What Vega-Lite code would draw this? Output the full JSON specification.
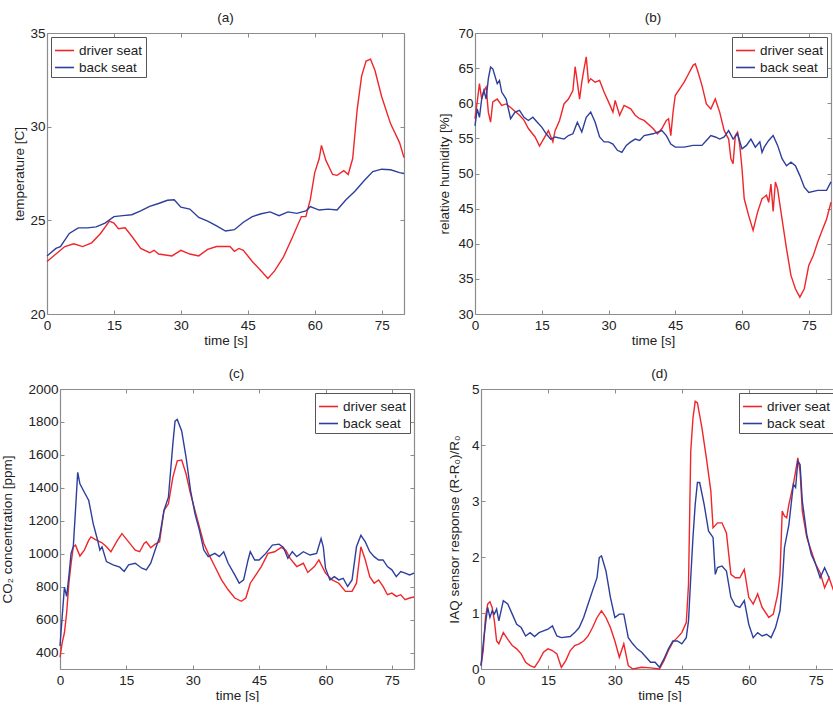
{
"$schema": "https://vega.github.io/schema/vega-lite/v6.json",
"background": "white",
"padding": {"left": 0, "top": 10, "right": 0, "bottom": 0},
"config": {
  "font": "Liberation Sans",
  "view": {"stroke": null},
  "title": {"fontSize": 13.5, "fontWeight": "normal", "color": "#222", "offset": 2},
  "axis": {"labelFontSize": 13.5, "titleFontSize": 13.5, "titleFontWeight": "normal", "labelColor": "#222", "titleColor": "#222", "domainColor": "#8c8c8c", "domainWidth": 1.2, "tickColor": "#8c8c8c", "tickSize": -4, "grid": false, "labelFlush": false, "labelOverlap": false},
  "axisX": {"labelPadding": 8, "titlePadding": 2},
  "axisY": {"labelPadding": 6},
  "legend": {"labelFontSize": 13.5, "labelColor": "#222", "symbolType": "stroke", "symbolSize": 361, "symbolStrokeWidth": 1.6, "strokeColor": "#555", "fillColor": "white", "padding": 3, "offset": 4, "labelOffset": 4, "rowPadding": -2}
},
"datasets": {
"a": [
{"t":0,"v":22.8,"s":"driver seat"},{"t":2,"v":23.2,"s":"driver seat"},{"t":4,"v":23.6,"s":"driver seat"},{"t":6,"v":23.75,"s":"driver seat"},{"t":8,"v":23.6,"s":"driver seat"},{"t":10,"v":23.8,"s":"driver seat"},{"t":12,"v":24.3,"s":"driver seat"},{"t":14,"v":24.96,"s":"driver seat"},{"t":15,"v":24.85,"s":"driver seat"},{"t":16,"v":24.55,"s":"driver seat"},{"t":17.5,"v":24.6,"s":"driver seat"},{"t":19,"v":24.15,"s":"driver seat"},{"t":21,"v":23.5,"s":"driver seat"},{"t":23,"v":23.27,"s":"driver seat"},{"t":24,"v":23.4,"s":"driver seat"},{"t":25,"v":23.2,"s":"driver seat"},{"t":28,"v":23.1,"s":"driver seat"},{"t":30,"v":23.4,"s":"driver seat"},{"t":32,"v":23.2,"s":"driver seat"},{"t":34,"v":23.1,"s":"driver seat"},{"t":36,"v":23.45,"s":"driver seat"},{"t":38,"v":23.6,"s":"driver seat"},{"t":41,"v":23.6,"s":"driver seat"},{"t":42,"v":23.35,"s":"driver seat"},{"t":43,"v":23.5,"s":"driver seat"},{"t":44,"v":23.4,"s":"driver seat"},{"t":46,"v":22.8,"s":"driver seat"},{"t":48,"v":22.3,"s":"driver seat"},{"t":49.5,"v":21.9,"s":"driver seat"},{"t":51,"v":22.3,"s":"driver seat"},{"t":53,"v":23.05,"s":"driver seat"},{"t":55,"v":24.1,"s":"driver seat"},{"t":57,"v":25.2,"s":"driver seat"},{"t":58,"v":25.2,"s":"driver seat"},{"t":59,"v":26.1,"s":"driver seat"},{"t":60,"v":27.55,"s":"driver seat"},{"t":61,"v":28.3,"s":"driver seat"},{"t":61.5,"v":29.0,"s":"driver seat"},{"t":62.5,"v":28.2,"s":"driver seat"},{"t":64,"v":27.45,"s":"driver seat"},{"t":65,"v":27.4,"s":"driver seat"},{"t":66.5,"v":27.65,"s":"driver seat"},{"t":67.5,"v":27.45,"s":"driver seat"},{"t":68.5,"v":28.3,"s":"driver seat"},{"t":69.5,"v":30.9,"s":"driver seat"},{"t":70.5,"v":32.7,"s":"driver seat"},{"t":71.5,"v":33.5,"s":"driver seat"},{"t":72.5,"v":33.6,"s":"driver seat"},{"t":73.5,"v":33.0,"s":"driver seat"},{"t":75,"v":31.6,"s":"driver seat"},{"t":77,"v":30.15,"s":"driver seat"},{"t":79,"v":29.15,"s":"driver seat"},{"t":80,"v":28.35,"s":"driver seat"},
{"t":0,"v":23.1,"s":"back seat"},{"t":2,"v":23.5,"s":"back seat"},{"t":3,"v":23.6,"s":"back seat"},{"t":5,"v":24.3,"s":"back seat"},{"t":7,"v":24.6,"s":"back seat"},{"t":9,"v":24.6,"s":"back seat"},{"t":11,"v":24.65,"s":"back seat"},{"t":13,"v":24.85,"s":"back seat"},{"t":15,"v":25.2,"s":"back seat"},{"t":17,"v":25.25,"s":"back seat"},{"t":19,"v":25.3,"s":"back seat"},{"t":21,"v":25.5,"s":"back seat"},{"t":23,"v":25.75,"s":"back seat"},{"t":25,"v":25.9,"s":"back seat"},{"t":27,"v":26.07,"s":"back seat"},{"t":28.5,"v":26.1,"s":"back seat"},{"t":30,"v":25.7,"s":"back seat"},{"t":32,"v":25.6,"s":"back seat"},{"t":34,"v":25.15,"s":"back seat"},{"t":36,"v":24.96,"s":"back seat"},{"t":38,"v":24.7,"s":"back seat"},{"t":40,"v":24.43,"s":"back seat"},{"t":42,"v":24.5,"s":"back seat"},{"t":44,"v":24.9,"s":"back seat"},{"t":46,"v":25.2,"s":"back seat"},{"t":48,"v":25.35,"s":"back seat"},{"t":50,"v":25.45,"s":"back seat"},{"t":52,"v":25.25,"s":"back seat"},{"t":54,"v":25.45,"s":"back seat"},{"t":56,"v":25.37,"s":"back seat"},{"t":58,"v":25.5,"s":"back seat"},{"t":59,"v":25.73,"s":"back seat"},{"t":61,"v":25.55,"s":"back seat"},{"t":63,"v":25.6,"s":"back seat"},{"t":65,"v":25.55,"s":"back seat"},{"t":67,"v":26.1,"s":"back seat"},{"t":69,"v":26.55,"s":"back seat"},{"t":71,"v":27.1,"s":"back seat"},{"t":73,"v":27.6,"s":"back seat"},{"t":75,"v":27.73,"s":"back seat"},{"t":77,"v":27.7,"s":"back seat"},{"t":79,"v":27.55,"s":"back seat"},{"t":80,"v":27.5,"s":"back seat"}
],
"b": [
{"t":0,"v":57.8,"s":"driver seat"},{"t":0.5,"v":60.2,"s":"driver seat"},{"t":1,"v":62.8,"s":"driver seat"},{"t":1.5,"v":60.6,"s":"driver seat"},{"t":2,"v":61.8,"s":"driver seat"},{"t":2.5,"v":62.3,"s":"driver seat"},{"t":3,"v":58.7,"s":"driver seat"},{"t":3.5,"v":57.3,"s":"driver seat"},{"t":4,"v":60.2,"s":"driver seat"},{"t":5,"v":60.6,"s":"driver seat"},{"t":6,"v":59.7,"s":"driver seat"},{"t":7,"v":59.9,"s":"driver seat"},{"t":8,"v":59.4,"s":"driver seat"},{"t":10,"v":58.3,"s":"driver seat"},{"t":11,"v":57.6,"s":"driver seat"},{"t":12,"v":56.4,"s":"driver seat"},{"t":13.5,"v":55.2,"s":"driver seat"},{"t":14.5,"v":53.9,"s":"driver seat"},{"t":15.5,"v":55.0,"s":"driver seat"},{"t":16.5,"v":56.1,"s":"driver seat"},{"t":17.5,"v":54.5,"s":"driver seat"},{"t":18,"v":56.1,"s":"driver seat"},{"t":19,"v":57.55,"s":"driver seat"},{"t":20,"v":59.9,"s":"driver seat"},{"t":21,"v":60.6,"s":"driver seat"},{"t":22,"v":61.8,"s":"driver seat"},{"t":22.5,"v":65.2,"s":"driver seat"},{"t":23,"v":63.0,"s":"driver seat"},{"t":23.5,"v":60.6,"s":"driver seat"},{"t":24,"v":63.0,"s":"driver seat"},{"t":24.5,"v":64.9,"s":"driver seat"},{"t":25,"v":66.6,"s":"driver seat"},{"t":25.5,"v":63.0,"s":"driver seat"},{"t":26,"v":63.5,"s":"driver seat"},{"t":27,"v":63.0,"s":"driver seat"},{"t":28,"v":63.25,"s":"driver seat"},{"t":29,"v":61.6,"s":"driver seat"},{"t":30,"v":60.2,"s":"driver seat"},{"t":31,"v":58.75,"s":"driver seat"},{"t":31.5,"v":60.4,"s":"driver seat"},{"t":32.5,"v":58.3,"s":"driver seat"},{"t":33.5,"v":59.7,"s":"driver seat"},{"t":35,"v":59.2,"s":"driver seat"},{"t":36,"v":58.3,"s":"driver seat"},{"t":37,"v":57.8,"s":"driver seat"},{"t":38,"v":57.55,"s":"driver seat"},{"t":40,"v":56.4,"s":"driver seat"},{"t":41,"v":55.65,"s":"driver seat"},{"t":42,"v":56.4,"s":"driver seat"},{"t":43,"v":57.55,"s":"driver seat"},{"t":43.5,"v":57.8,"s":"driver seat"},{"t":44,"v":55.4,"s":"driver seat"},{"t":44.5,"v":58.7,"s":"driver seat"},{"t":45,"v":61.1,"s":"driver seat"},{"t":46,"v":62.05,"s":"driver seat"},{"t":47,"v":63.0,"s":"driver seat"},{"t":48,"v":64.2,"s":"driver seat"},{"t":49,"v":65.4,"s":"driver seat"},{"t":49.5,"v":65.6,"s":"driver seat"},{"t":50,"v":64.7,"s":"driver seat"},{"t":51,"v":62.55,"s":"driver seat"},{"t":52,"v":59.9,"s":"driver seat"},{"t":53,"v":59.2,"s":"driver seat"},{"t":54,"v":60.6,"s":"driver seat"},{"t":55,"v":58.7,"s":"driver seat"},{"t":56,"v":56.1,"s":"driver seat"},{"t":57,"v":54.9,"s":"driver seat"},{"t":57.5,"v":52.1,"s":"driver seat"},{"t":58,"v":51.4,"s":"driver seat"},{"t":58.5,"v":55.4,"s":"driver seat"},{"t":59,"v":55.9,"s":"driver seat"},{"t":59.5,"v":54.0,"s":"driver seat"},{"t":60,"v":50.7,"s":"driver seat"},{"t":60.5,"v":46.4,"s":"driver seat"},{"t":61.5,"v":44.0,"s":"driver seat"},{"t":62.5,"v":41.9,"s":"driver seat"},{"t":63.5,"v":44.5,"s":"driver seat"},{"t":64.5,"v":46.4,"s":"driver seat"},{"t":65.5,"v":46.9,"s":"driver seat"},{"t":66,"v":45.9,"s":"driver seat"},{"t":66.5,"v":48.5,"s":"driver seat"},{"t":67,"v":44.6,"s":"driver seat"},{"t":67.5,"v":48.8,"s":"driver seat"},{"t":68,"v":47.8,"s":"driver seat"},{"t":69,"v":43.5,"s":"driver seat"},{"t":70,"v":39.3,"s":"driver seat"},{"t":71,"v":35.5,"s":"driver seat"},{"t":72,"v":33.6,"s":"driver seat"},{"t":73,"v":32.4,"s":"driver seat"},{"t":74,"v":33.6,"s":"driver seat"},{"t":75,"v":36.9,"s":"driver seat"},{"t":76,"v":38.3,"s":"driver seat"},{"t":77,"v":40.2,"s":"driver seat"},{"t":78,"v":41.9,"s":"driver seat"},{"t":79,"v":43.5,"s":"driver seat"},{"t":80,"v":45.9,"s":"driver seat"},
{"t":0,"v":56.8,"s":"back seat"},{"t":0.5,"v":59.2,"s":"back seat"},{"t":1,"v":58.0,"s":"back seat"},{"t":1.5,"v":60.6,"s":"back seat"},{"t":2,"v":61.8,"s":"back seat"},{"t":2.5,"v":60.6,"s":"back seat"},{"t":3,"v":63.5,"s":"back seat"},{"t":3.5,"v":65.15,"s":"back seat"},{"t":4,"v":64.9,"s":"back seat"},{"t":5,"v":62.8,"s":"back seat"},{"t":5.5,"v":63.25,"s":"back seat"},{"t":6,"v":61.6,"s":"back seat"},{"t":7,"v":60.6,"s":"back seat"},{"t":8,"v":57.8,"s":"back seat"},{"t":9,"v":58.75,"s":"back seat"},{"t":10,"v":59.0,"s":"back seat"},{"t":11,"v":58.0,"s":"back seat"},{"t":12,"v":57.55,"s":"back seat"},{"t":13,"v":58.0,"s":"back seat"},{"t":14,"v":57.3,"s":"back seat"},{"t":15,"v":56.6,"s":"back seat"},{"t":16,"v":55.65,"s":"back seat"},{"t":17,"v":54.9,"s":"back seat"},{"t":18,"v":55.2,"s":"back seat"},{"t":20,"v":54.9,"s":"back seat"},{"t":21,"v":55.4,"s":"back seat"},{"t":22,"v":55.65,"s":"back seat"},{"t":23,"v":57.3,"s":"back seat"},{"t":24,"v":55.9,"s":"back seat"},{"t":25,"v":58.0,"s":"back seat"},{"t":26,"v":58.75,"s":"back seat"},{"t":27,"v":57.3,"s":"back seat"},{"t":28,"v":55.2,"s":"back seat"},{"t":29,"v":54.5,"s":"back seat"},{"t":30,"v":54.5,"s":"back seat"},{"t":31,"v":54.2,"s":"back seat"},{"t":32,"v":53.3,"s":"back seat"},{"t":33,"v":53.0,"s":"back seat"},{"t":34,"v":54.0,"s":"back seat"},{"t":35,"v":54.5,"s":"back seat"},{"t":36,"v":54.9,"s":"back seat"},{"t":37,"v":54.7,"s":"back seat"},{"t":38,"v":55.4,"s":"back seat"},{"t":40,"v":55.65,"s":"back seat"},{"t":42,"v":56.1,"s":"back seat"},{"t":43,"v":55.4,"s":"back seat"},{"t":44,"v":54.2,"s":"back seat"},{"t":45,"v":53.75,"s":"back seat"},{"t":47,"v":53.75,"s":"back seat"},{"t":49,"v":54.0,"s":"back seat"},{"t":51,"v":54.0,"s":"back seat"},{"t":52,"v":54.7,"s":"back seat"},{"t":53,"v":55.4,"s":"back seat"},{"t":54,"v":55.2,"s":"back seat"},{"t":55,"v":54.9,"s":"back seat"},{"t":56,"v":55.2,"s":"back seat"},{"t":57,"v":56.1,"s":"back seat"},{"t":58,"v":54.9,"s":"back seat"},{"t":59,"v":55.65,"s":"back seat"},{"t":60,"v":53.5,"s":"back seat"},{"t":61,"v":54.0,"s":"back seat"},{"t":62,"v":54.9,"s":"back seat"},{"t":63,"v":53.75,"s":"back seat"},{"t":64,"v":54.5,"s":"back seat"},{"t":64.5,"v":53.0,"s":"back seat"},{"t":65,"v":53.75,"s":"back seat"},{"t":66,"v":54.7,"s":"back seat"},{"t":67,"v":55.4,"s":"back seat"},{"t":68,"v":54.0,"s":"back seat"},{"t":69,"v":52.1,"s":"back seat"},{"t":70,"v":51.1,"s":"back seat"},{"t":71,"v":51.6,"s":"back seat"},{"t":72,"v":51.1,"s":"back seat"},{"t":73,"v":49.7,"s":"back seat"},{"t":74,"v":48.05,"s":"back seat"},{"t":75,"v":47.3,"s":"back seat"},{"t":77,"v":47.6,"s":"back seat"},{"t":79,"v":47.6,"s":"back seat"},{"t":80,"v":48.8,"s":"back seat"}
],
"c": [
{"t":0,"v":370,"s":"driver seat"},{"t":0.5,"v":460,"s":"driver seat"},{"t":1,"v":520,"s":"driver seat"},{"t":1.5,"v":640,"s":"driver seat"},{"t":2,"v":820,"s":"driver seat"},{"t":2.5,"v":940,"s":"driver seat"},{"t":3,"v":1042,"s":"driver seat"},{"t":3.5,"v":1052,"s":"driver seat"},{"t":4.5,"v":986,"s":"driver seat"},{"t":5.5,"v":1022,"s":"driver seat"},{"t":6.5,"v":1082,"s":"driver seat"},{"t":7,"v":1102,"s":"driver seat"},{"t":8,"v":1086,"s":"driver seat"},{"t":9.5,"v":1066,"s":"driver seat"},{"t":10.5,"v":1042,"s":"driver seat"},{"t":11.5,"v":1012,"s":"driver seat"},{"t":13,"v":1082,"s":"driver seat"},{"t":14,"v":1122,"s":"driver seat"},{"t":15.5,"v":1072,"s":"driver seat"},{"t":17,"v":1022,"s":"driver seat"},{"t":18,"v":1012,"s":"driver seat"},{"t":19,"v":1062,"s":"driver seat"},{"t":19.5,"v":1072,"s":"driver seat"},{"t":20.5,"v":1036,"s":"driver seat"},{"t":21.5,"v":1058,"s":"driver seat"},{"t":22.5,"v":1072,"s":"driver seat"},{"t":23.5,"v":1263,"s":"driver seat"},{"t":24.5,"v":1303,"s":"driver seat"},{"t":25.5,"v":1464,"s":"driver seat"},{"t":26.5,"v":1564,"s":"driver seat"},{"t":27.5,"v":1568,"s":"driver seat"},{"t":28.5,"v":1484,"s":"driver seat"},{"t":29.5,"v":1363,"s":"driver seat"},{"t":30.5,"v":1263,"s":"driver seat"},{"t":31.5,"v":1163,"s":"driver seat"},{"t":32.5,"v":1062,"s":"driver seat"},{"t":33.5,"v":1002,"s":"driver seat"},{"t":35,"v":922,"s":"driver seat"},{"t":36.5,"v":841,"s":"driver seat"},{"t":38,"v":781,"s":"driver seat"},{"t":39.5,"v":731,"s":"driver seat"},{"t":41,"v":711,"s":"driver seat"},{"t":42,"v":731,"s":"driver seat"},{"t":43,"v":821,"s":"driver seat"},{"t":44,"v":861,"s":"driver seat"},{"t":45.5,"v":922,"s":"driver seat"},{"t":47,"v":1002,"s":"driver seat"},{"t":48.5,"v":1012,"s":"driver seat"},{"t":50,"v":1038,"s":"driver seat"},{"t":51,"v":1022,"s":"driver seat"},{"t":52,"v":972,"s":"driver seat"},{"t":53.5,"v":922,"s":"driver seat"},{"t":55,"v":942,"s":"driver seat"},{"t":56,"v":886,"s":"driver seat"},{"t":57.5,"v":922,"s":"driver seat"},{"t":58.5,"v":962,"s":"driver seat"},{"t":60,"v":882,"s":"driver seat"},{"t":61.5,"v":841,"s":"driver seat"},{"t":63,"v":821,"s":"driver seat"},{"t":64.5,"v":771,"s":"driver seat"},{"t":66,"v":771,"s":"driver seat"},{"t":67,"v":821,"s":"driver seat"},{"t":68,"v":1042,"s":"driver seat"},{"t":69,"v":962,"s":"driver seat"},{"t":70,"v":861,"s":"driver seat"},{"t":71,"v":821,"s":"driver seat"},{"t":72,"v":841,"s":"driver seat"},{"t":73,"v":801,"s":"driver seat"},{"t":74,"v":751,"s":"driver seat"},{"t":75,"v":761,"s":"driver seat"},{"t":76,"v":741,"s":"driver seat"},{"t":77,"v":751,"s":"driver seat"},{"t":78,"v":721,"s":"driver seat"},{"t":79,"v":731,"s":"driver seat"},{"t":80,"v":737,"s":"driver seat"},
{"t":0,"v":440,"s":"back seat"},{"t":0.5,"v":620,"s":"back seat"},{"t":1,"v":797,"s":"back seat"},{"t":1.5,"v":741,"s":"back seat"},{"t":2,"v":861,"s":"back seat"},{"t":2.5,"v":1002,"s":"back seat"},{"t":3,"v":1042,"s":"back seat"},{"t":3.5,"v":1263,"s":"back seat"},{"t":4,"v":1494,"s":"back seat"},{"t":4.5,"v":1424,"s":"back seat"},{"t":5.5,"v":1373,"s":"back seat"},{"t":6.5,"v":1323,"s":"back seat"},{"t":7.5,"v":1183,"s":"back seat"},{"t":8.5,"v":1082,"s":"back seat"},{"t":9,"v":1022,"s":"back seat"},{"t":9.5,"v":1042,"s":"back seat"},{"t":10.5,"v":952,"s":"back seat"},{"t":12,"v":932,"s":"back seat"},{"t":13.5,"v":918,"s":"back seat"},{"t":14.5,"v":892,"s":"back seat"},{"t":15.5,"v":932,"s":"back seat"},{"t":17,"v":942,"s":"back seat"},{"t":18.5,"v":912,"s":"back seat"},{"t":19.5,"v":902,"s":"back seat"},{"t":20.5,"v":942,"s":"back seat"},{"t":21.5,"v":1022,"s":"back seat"},{"t":22.5,"v":1102,"s":"back seat"},{"t":23.5,"v":1263,"s":"back seat"},{"t":24.5,"v":1343,"s":"back seat"},{"t":25.5,"v":1665,"s":"back seat"},{"t":26,"v":1805,"s":"back seat"},{"t":26.5,"v":1815,"s":"back seat"},{"t":27.5,"v":1745,"s":"back seat"},{"t":28.5,"v":1584,"s":"back seat"},{"t":29.5,"v":1384,"s":"back seat"},{"t":30.5,"v":1243,"s":"back seat"},{"t":31.5,"v":1143,"s":"back seat"},{"t":32.5,"v":1022,"s":"back seat"},{"t":33.5,"v":982,"s":"back seat"},{"t":35,"v":1002,"s":"back seat"},{"t":36,"v":982,"s":"back seat"},{"t":37,"v":1012,"s":"back seat"},{"t":38,"v":942,"s":"back seat"},{"t":39.5,"v":871,"s":"back seat"},{"t":40.5,"v":821,"s":"back seat"},{"t":41.5,"v":841,"s":"back seat"},{"t":42.5,"v":962,"s":"back seat"},{"t":43,"v":1012,"s":"back seat"},{"t":44,"v":962,"s":"back seat"},{"t":45,"v":962,"s":"back seat"},{"t":46.5,"v":1002,"s":"back seat"},{"t":48,"v":1052,"s":"back seat"},{"t":49.5,"v":1058,"s":"back seat"},{"t":50.5,"v":1038,"s":"back seat"},{"t":51.5,"v":972,"s":"back seat"},{"t":52.5,"v":1012,"s":"back seat"},{"t":53.5,"v":982,"s":"back seat"},{"t":55,"v":1012,"s":"back seat"},{"t":56.5,"v":992,"s":"back seat"},{"t":58,"v":1002,"s":"back seat"},{"t":59,"v":1092,"s":"back seat"},{"t":59.5,"v":1042,"s":"back seat"},{"t":60,"v":912,"s":"back seat"},{"t":61,"v":841,"s":"back seat"},{"t":62,"v":861,"s":"back seat"},{"t":63,"v":841,"s":"back seat"},{"t":64,"v":851,"s":"back seat"},{"t":65,"v":801,"s":"back seat"},{"t":66,"v":841,"s":"back seat"},{"t":67,"v":1042,"s":"back seat"},{"t":68,"v":1112,"s":"back seat"},{"t":69,"v":1072,"s":"back seat"},{"t":70,"v":1012,"s":"back seat"},{"t":71,"v":982,"s":"back seat"},{"t":72,"v":962,"s":"back seat"},{"t":73,"v":962,"s":"back seat"},{"t":74,"v":922,"s":"back seat"},{"t":75,"v":902,"s":"back seat"},{"t":76,"v":861,"s":"back seat"},{"t":77,"v":892,"s":"back seat"},{"t":78,"v":882,"s":"back seat"},{"t":79,"v":871,"s":"back seat"},{"t":80,"v":882,"s":"back seat"}
],
"d": [
{"t":0,"v":0.06,"s":"driver seat"},{"t":0.5,"v":0.33,"s":"driver seat"},{"t":1,"v":0.92,"s":"driver seat"},{"t":1.5,"v":1.16,"s":"driver seat"},{"t":2,"v":1.2,"s":"driver seat"},{"t":2.5,"v":1.1,"s":"driver seat"},{"t":3,"v":0.86,"s":"driver seat"},{"t":3.5,"v":0.5,"s":"driver seat"},{"t":4,"v":0.45,"s":"driver seat"},{"t":5,"v":0.65,"s":"driver seat"},{"t":6,"v":0.53,"s":"driver seat"},{"t":7,"v":0.42,"s":"driver seat"},{"t":8,"v":0.36,"s":"driver seat"},{"t":9,"v":0.27,"s":"driver seat"},{"t":10,"v":0.12,"s":"driver seat"},{"t":11,"v":0.06,"s":"driver seat"},{"t":12,"v":0.03,"s":"driver seat"},{"t":13,"v":0.15,"s":"driver seat"},{"t":14,"v":0.3,"s":"driver seat"},{"t":15,"v":0.36,"s":"driver seat"},{"t":16,"v":0.33,"s":"driver seat"},{"t":17,"v":0.27,"s":"driver seat"},{"t":18,"v":0.03,"s":"driver seat"},{"t":19,"v":0.15,"s":"driver seat"},{"t":20,"v":0.33,"s":"driver seat"},{"t":21,"v":0.42,"s":"driver seat"},{"t":22,"v":0.45,"s":"driver seat"},{"t":23,"v":0.5,"s":"driver seat"},{"t":24,"v":0.59,"s":"driver seat"},{"t":25,"v":0.74,"s":"driver seat"},{"t":26,"v":0.92,"s":"driver seat"},{"t":27,"v":1.04,"s":"driver seat"},{"t":28,"v":0.92,"s":"driver seat"},{"t":29,"v":0.74,"s":"driver seat"},{"t":30,"v":0.5,"s":"driver seat"},{"t":31,"v":0.21,"s":"driver seat"},{"t":32,"v":0.45,"s":"driver seat"},{"t":33,"v":0.06,"s":"driver seat"},{"t":34,"v":0,"s":"driver seat"},{"t":36,"v":0.03,"s":"driver seat"},{"t":38,"v":0.02,"s":"driver seat"},{"t":40,"v":0,"s":"driver seat"},{"t":41,"v":0.15,"s":"driver seat"},{"t":42,"v":0.33,"s":"driver seat"},{"t":43,"v":0.48,"s":"driver seat"},{"t":44,"v":0.56,"s":"driver seat"},{"t":45,"v":0.65,"s":"driver seat"},{"t":46,"v":0.83,"s":"driver seat"},{"t":46.5,"v":1.51,"s":"driver seat"},{"t":47,"v":3.89,"s":"driver seat"},{"t":47.5,"v":4.48,"s":"driver seat"},{"t":48,"v":4.78,"s":"driver seat"},{"t":48.5,"v":4.75,"s":"driver seat"},{"t":49.5,"v":4.31,"s":"driver seat"},{"t":50.5,"v":3.77,"s":"driver seat"},{"t":51.5,"v":3.18,"s":"driver seat"},{"t":52,"v":2.52,"s":"driver seat"},{"t":53,"v":2.61,"s":"driver seat"},{"t":54,"v":2.61,"s":"driver seat"},{"t":55,"v":2.43,"s":"driver seat"},{"t":56,"v":1.69,"s":"driver seat"},{"t":57,"v":1.63,"s":"driver seat"},{"t":58,"v":1.63,"s":"driver seat"},{"t":59,"v":1.78,"s":"driver seat"},{"t":60,"v":1.28,"s":"driver seat"},{"t":61,"v":1.16,"s":"driver seat"},{"t":62,"v":1.34,"s":"driver seat"},{"t":63,"v":1.1,"s":"driver seat"},{"t":64.5,"v":0.92,"s":"driver seat"},{"t":65.5,"v":0.98,"s":"driver seat"},{"t":66.5,"v":1.34,"s":"driver seat"},{"t":67,"v":1.69,"s":"driver seat"},{"t":67.5,"v":2.82,"s":"driver seat"},{"t":68,"v":2.73,"s":"driver seat"},{"t":68.5,"v":2.7,"s":"driver seat"},{"t":69,"v":2.94,"s":"driver seat"},{"t":70,"v":3.3,"s":"driver seat"},{"t":70.5,"v":3.53,"s":"driver seat"},{"t":71,"v":3.77,"s":"driver seat"},{"t":71.5,"v":3.53,"s":"driver seat"},{"t":72,"v":2.82,"s":"driver seat"},{"t":73,"v":2.35,"s":"driver seat"},{"t":74,"v":2.11,"s":"driver seat"},{"t":75,"v":1.87,"s":"driver seat"},{"t":76,"v":1.72,"s":"driver seat"},{"t":77,"v":1.45,"s":"driver seat"},{"t":78,"v":1.63,"s":"driver seat"},{"t":79,"v":1.4,"s":"driver seat"},
{"t":0,"v":0.06,"s":"back seat"},{"t":0.5,"v":0.45,"s":"back seat"},{"t":1,"v":0.8,"s":"back seat"},{"t":1.5,"v":1.1,"s":"back seat"},{"t":2,"v":0.92,"s":"back seat"},{"t":2.5,"v":1.04,"s":"back seat"},{"t":3,"v":0.98,"s":"back seat"},{"t":3.5,"v":1.07,"s":"back seat"},{"t":4,"v":0.86,"s":"back seat"},{"t":5,"v":1.22,"s":"back seat"},{"t":6,"v":1.16,"s":"back seat"},{"t":7,"v":0.98,"s":"back seat"},{"t":8,"v":0.8,"s":"back seat"},{"t":9,"v":0.74,"s":"back seat"},{"t":10,"v":0.59,"s":"back seat"},{"t":11,"v":0.65,"s":"back seat"},{"t":12,"v":0.58,"s":"back seat"},{"t":13,"v":0.65,"s":"back seat"},{"t":14,"v":0.68,"s":"back seat"},{"t":15,"v":0.71,"s":"back seat"},{"t":16,"v":0.77,"s":"back seat"},{"t":17,"v":0.59,"s":"back seat"},{"t":18,"v":0.56,"s":"back seat"},{"t":20,"v":0.58,"s":"back seat"},{"t":21,"v":0.65,"s":"back seat"},{"t":22,"v":0.74,"s":"back seat"},{"t":23,"v":0.92,"s":"back seat"},{"t":24,"v":1.16,"s":"back seat"},{"t":25,"v":1.4,"s":"back seat"},{"t":26,"v":1.63,"s":"back seat"},{"t":26.5,"v":1.99,"s":"back seat"},{"t":27,"v":2.02,"s":"back seat"},{"t":28,"v":1.75,"s":"back seat"},{"t":29,"v":1.28,"s":"back seat"},{"t":30,"v":0.92,"s":"back seat"},{"t":31,"v":0.98,"s":"back seat"},{"t":32,"v":0.98,"s":"back seat"},{"t":33,"v":0.56,"s":"back seat"},{"t":34,"v":0.45,"s":"back seat"},{"t":35,"v":0.36,"s":"back seat"},{"t":36,"v":0.3,"s":"back seat"},{"t":37,"v":0.21,"s":"back seat"},{"t":38,"v":0.12,"s":"back seat"},{"t":39,"v":0.12,"s":"back seat"},{"t":40,"v":0.03,"s":"back seat"},{"t":41,"v":0.18,"s":"back seat"},{"t":42,"v":0.36,"s":"back seat"},{"t":43,"v":0.5,"s":"back seat"},{"t":44,"v":0.5,"s":"back seat"},{"t":45,"v":0.45,"s":"back seat"},{"t":46,"v":0.56,"s":"back seat"},{"t":46.5,"v":0.86,"s":"back seat"},{"t":47,"v":1.63,"s":"back seat"},{"t":47.5,"v":2.35,"s":"back seat"},{"t":48,"v":2.94,"s":"back seat"},{"t":48.5,"v":3.33,"s":"back seat"},{"t":49,"v":3.33,"s":"back seat"},{"t":50,"v":2.94,"s":"back seat"},{"t":51,"v":2.46,"s":"back seat"},{"t":52,"v":2.35,"s":"back seat"},{"t":52.5,"v":1.69,"s":"back seat"},{"t":53,"v":1.81,"s":"back seat"},{"t":54,"v":1.84,"s":"back seat"},{"t":55,"v":1.75,"s":"back seat"},{"t":56,"v":1.28,"s":"back seat"},{"t":57,"v":1.13,"s":"back seat"},{"t":58,"v":1.1,"s":"back seat"},{"t":59,"v":1.22,"s":"back seat"},{"t":60,"v":0.8,"s":"back seat"},{"t":61,"v":0.56,"s":"back seat"},{"t":62,"v":0.65,"s":"back seat"},{"t":63,"v":0.59,"s":"back seat"},{"t":64,"v":0.62,"s":"back seat"},{"t":65,"v":0.56,"s":"back seat"},{"t":66,"v":0.74,"s":"back seat"},{"t":67,"v":1.04,"s":"back seat"},{"t":67.5,"v":1.51,"s":"back seat"},{"t":68,"v":2.17,"s":"back seat"},{"t":69,"v":2.58,"s":"back seat"},{"t":70,"v":3.3,"s":"back seat"},{"t":70.5,"v":3.24,"s":"back seat"},{"t":71,"v":3.71,"s":"back seat"},{"t":71.5,"v":3.65,"s":"back seat"},{"t":72,"v":3.0,"s":"back seat"},{"t":73,"v":2.4,"s":"back seat"},{"t":74,"v":2.05,"s":"back seat"},{"t":75,"v":1.87,"s":"back seat"},{"t":76,"v":1.63,"s":"back seat"},{"t":77,"v":1.81,"s":"back seat"},{"t":78,"v":1.63,"s":"back seat"}
]
},
"columns": 2,
"spacing": {"row": 19, "column": 20},
"align": {"row": "all", "column": "each"},
"concat": [
{
 "title": "(a)", "width": 357, "height": 281, "data": {"name": "a"},
 "layer": [
  {"mark": {"type": "line", "strokeWidth": 1.4},
   "encoding": {
    "x": {"field": "t", "type": "quantitative", "scale": {"domain": [0, 80], "nice": false}, "axis": {"values": [0, 15, 30, 45, 60, 75], "title": "time [s]"}},
    "y": {"field": "v", "type": "quantitative", "scale": {"domain": [20, 35], "nice": false, "zero": false}, "axis": {"values": [20, 25, 30, 35], "title": "temperature [C]", "titlePadding": 3}},
    "color": {"field": "s", "type": "nominal", "scale": {"domain": ["driver seat", "back seat"], "range": ["#f0262a", "#2d3f9c"]}, "legend": {"title": null, "orient": "top-left"}}
   }},
  {"mark": {"type": "line", "opacity": 0},
   "encoding": {
    "x": {"field": "t", "type": "quantitative", "axis": {"orient": "top", "values": [0, 15, 30, 45, 60, 75], "labels": false, "title": null}},
    "y": {"field": "v", "type": "quantitative", "axis": {"orient": "right", "values": [20, 25, 30, 35], "labels": false, "title": null}},
    "detail": {"field": "s"}
   }}
 ],
 "resolve": {"axis": {"x": "independent", "y": "independent"}}
},
{
 "title": "(b)", "width": 356, "height": 281, "data": {"name": "b"},
 "layer": [
  {"mark": {"type": "line", "strokeWidth": 1.4},
   "encoding": {
    "x": {"field": "t", "type": "quantitative", "scale": {"domain": [0, 80], "nice": false}, "axis": {"values": [0, 15, 30, 45, 60, 75], "title": "time [s]"}},
    "y": {"field": "v", "type": "quantitative", "scale": {"domain": [30, 70], "nice": false, "zero": false}, "axis": {"values": [30, 35, 40, 45, 50, 55, 60, 65, 70], "title": "relative humidity [%]", "titlePadding": 6}},
    "color": {"field": "s", "type": "nominal", "scale": {"domain": ["driver seat", "back seat"], "range": ["#f0262a", "#2d3f9c"]}, "legend": {"title": null, "orient": "top-right"}}
   }},
  {"mark": {"type": "line", "opacity": 0},
   "encoding": {
    "x": {"field": "t", "type": "quantitative", "axis": {"orient": "top", "values": [0, 15, 30, 45, 60, 75], "labels": false, "title": null}},
    "y": {"field": "v", "type": "quantitative", "axis": {"orient": "right", "values": [30, 35, 40, 45, 50, 55, 60, 65, 70], "labels": false, "title": null}},
    "detail": {"field": "s"}
   }}
 ],
 "resolve": {"axis": {"x": "independent", "y": "independent"}}
},
{
 "title": {"text": "(c)", "dx": 6}, "width": 367, "height": 280, "data": {"name": "c"},
 "layer": [
  {"mark": {"type": "line", "strokeWidth": 1.4},
   "encoding": {
    "x": {"field": "t", "type": "quantitative", "scale": {"domain": [0, 80], "nice": false, "range": [13, 367]}, "axis": {"values": [0, 15, 30, 45, 60, 75], "title": "time [s]"}},
    "y": {"field": "v", "type": "quantitative", "scale": {"domain": [300, 2000], "nice": false, "zero": false}, "axis": {"values": [400, 600, 800, 1000, 1200, 1400, 1600, 1800, 2000], "format": "d", "title": "CO₂ concentration [ppm]", "titlePadding": 13, "offset": -13}},
    "color": {"field": "s", "type": "nominal", "scale": {"domain": ["driver seat", "back seat"], "range": ["#f0262a", "#2d3f9c"]}, "legend": {"title": null, "orient": "top-right"}}
   }},
  {"mark": {"type": "line", "opacity": 0},
   "encoding": {
    "x": {"field": "t", "type": "quantitative", "axis": {"orient": "top", "values": [0, 15, 30, 45, 60, 75], "labels": false, "title": null}},
    "y": {"field": "v", "type": "quantitative", "axis": {"orient": "right", "values": [400, 600, 800, 1000, 1200, 1400, 1600, 1800, 2000], "labels": false, "title": null}},
    "detail": {"field": "s"}
   }}
 ],
 "resolve": {"axis": {"x": "independent", "y": "independent"}}
},
{
 "title": {"text": "(d)", "dx": 3}, "width": 363, "height": 280, "data": {"name": "d"},
 "layer": [
  {"mark": {"type": "line", "strokeWidth": 1.4},
   "encoding": {
    "x": {"field": "t", "type": "quantitative", "scale": {"domain": [0, 80], "nice": false, "range": [6, 363]}, "axis": {"values": [0, 15, 30, 45, 60, 75], "title": "time [s]"}},
    "y": {"field": "v", "type": "quantitative", "scale": {"domain": [0, 5], "nice": false}, "axis": {"values": [0, 1, 2, 3, 4, 5], "title": "IAQ sensor response (R-R₀)/R₀", "titlePadding": 10, "offset": -6}},
    "color": {"field": "s", "type": "nominal", "scale": {"domain": ["driver seat", "back seat"], "range": ["#f0262a", "#2d3f9c"]}, "legend": {"title": null, "orient": "top-right"}}
   }},
  {"mark": {"type": "line", "opacity": 0},
   "encoding": {
    "x": {"field": "t", "type": "quantitative", "axis": {"orient": "top", "values": [0, 15, 30, 45, 60, 75], "labels": false, "title": null}},
    "y": {"field": "v", "type": "quantitative", "axis": {"orient": "right", "values": [0, 1, 2, 3, 4, 5], "labels": false, "title": null}},
    "detail": {"field": "s"}
   }}
 ],
 "resolve": {"axis": {"x": "independent", "y": "independent"}}
}
]
}
